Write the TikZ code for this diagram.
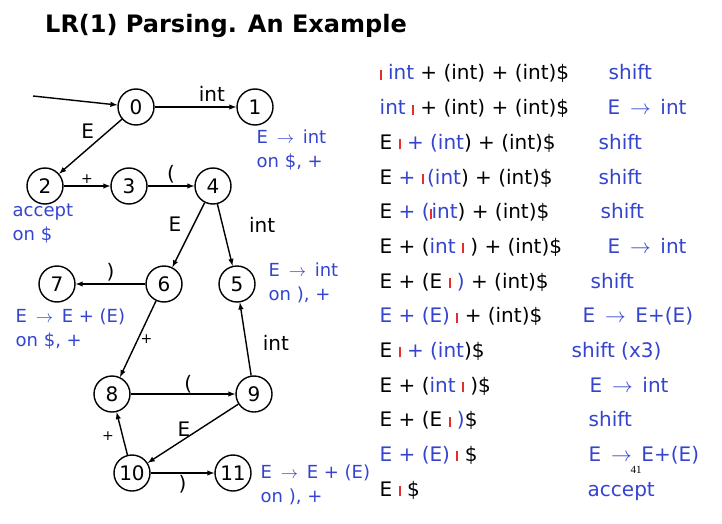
\documentclass[tikz,border=0pt]{standalone}
\usepackage{fontspec}
\setmainfont{DejaVu Sans}
\newfontfamily\numfont{Liberation Serif}
\usetikzlibrary{arrows}
\definecolor{lrblue}{RGB}{52,68,206}
\definecolor{lrred}{RGB}{228,46,46}
\newcommand{\bl}[1]{\textcolor{lrblue}{#1}}
\newcommand{\cur}{\textcolor{lrred}{\rule{2pt}{10pt}}}
\newcommand{\goesto}{\,$\rightarrow$\,}

\begin{document}
\begin{tikzpicture}[x=1pt,y=-1pt,line width=1.4pt,
  state/.style={draw,circle,minimum size=36pt,inner sep=0pt,font=\fontsize{20}{24}\selectfont},
  edge/.style={-latex},
  lab/.style={font=\fontsize{20}{24}\selectfont,inner sep=2pt},
  small/.style={font=\fontsize{14}{16}\selectfont,inner sep=2pt},
  note/.style={text=lrblue,align=left,anchor=north west,inner sep=0pt,font=\fontsize{18}{24}\selectfont},
  row/.style={anchor=base west,inner sep=0pt,font=\fontsize{20}{24}\selectfont}]
\useasboundingbox (0,0) rectangle (722,524);

\node[font=\fontsize{24}{28}\selectfont\bfseries] (title) at (226,26) {LR(1) Parsing. An Example};

% automaton
\node[state] (s0) at (136,107) {0};
\node[state] (s1) at (255,107) {1};
\node[state] (s2) at (45,186) {2};
\node[state] (s3) at (129,186) {3};
\node[state] (s4) at (213,186) {4};
\node[state] (s5) at (237,284) {5};
\node[state] (s6) at (164,284) {6};
\node[state] (s7) at (57,284) {7};
\node[state] (s8) at (112,394) {8};
\node[state] (s9) at (254,394) {9};
\node[state] (s10) at (132,473) {10};
\node[state] (s11) at (233,473) {11};
\coordinate (start) at (33,96);

\draw[edge] (start) -- (s0);
\draw[edge] (s0) -- node[lab,above=3pt,pos=0.7] {int} (s1);
\draw[edge] (s0) -- node[lab,above left,pos=0.4] {E} (s2);
\draw[edge] (s2) -- node[small,above] {+} (s3);
\draw[edge] (s3) -- node[lab,above] {(} (s4);
\draw[edge] (s4) -- node[lab,left=10pt,pos=0.33] {E} (s6);
\draw[edge] (s4) -- node[lab,right=24pt,pos=0.33] {int} (s5);
\draw[edge] (s6) -- node[lab,above] {)} (s7);
\draw[edge] (s6) -- node[small,right,pos=0.5] {+} (s8);
\draw[edge] (s9) -- node[lab,right=14pt,pos=0.45] {int} (s5);
\draw[edge] (s8) -- node[lab,above,pos=0.55,inner sep=0pt] {(} (s9);
\draw[edge] (s9) -- node[lab,above,pos=0.6] {E} (s10);
\draw[edge] (s10) -- node[small,left=6pt,pos=0.45] {+} (s8);
\draw[edge] (s10) -- node[lab,below] {)} (s11);

% reductions
\node[note] (r1) at (256,129) {E \goesto\ int\\on \$, +};
\node[note] (r2) at (12,203) {accept\\on \$};
\node[note] (r5) at (268,262) {E \goesto\ int\\on ), +};
\node[note] (r7) at (15,308) {E \goesto\ E + (E)\\on \$, +};
\node[note] (r11) at (260,464) {E \goesto\ E + (E)\\on ), +};

% trace
\foreach \n/\stk/\ax/\act in {
  1/{\cur\ \bl{int} + (int) + (int)\$}/608/{shift},
  2/{\bl{int} \cur\ + (int) + (int)\$}/607/{E \goesto\ int},
  3/{E \cur\ \bl{+ (int}) + (int)\$}/598/{shift},
  4/{E \bl{+} \cur\,\bl{(int}) + (int)\$}/598/{shift},
  5/{E \bl{+ (}\cur\bl{int}) + (int)\$}/600/{shift},
  6/{E + (\bl{int} \cur\ ) + (int)\$}/607/{E \goesto\ int},
  7/{E + (E \cur\ \bl{)} + (int)\$}/590/{shift},
  8/{\bl{E + (E)} \cur\ + (int)\$}/582/{E \goesto\ E+(E)},
  9/{E \cur\ \bl{+ (int})\$}/571/{shift (x3)},
  10/{E + (\bl{int} \cur\ )\$}/589/{E \goesto\ int},
  11/{E + (E \cur\ \bl{)}\$}/588/{shift},
  12/{\bl{E + (E)} \cur\ \$}/588/{E \goesto\ E+(E)},
  13/{E \cur\ \$}/587/{accept}}{
  \node[row] (stk\n) at (379,80+34.67*\n-34.67) {\stk};
  \node[row,text=lrblue] (act\n) at (\ax,80+34.67*\n-34.67) {\act};
}

\node[font=\numfont\fontsize{11}{12}\selectfont] (page) at (636,470) {41};
\end{tikzpicture}
\end{document}
